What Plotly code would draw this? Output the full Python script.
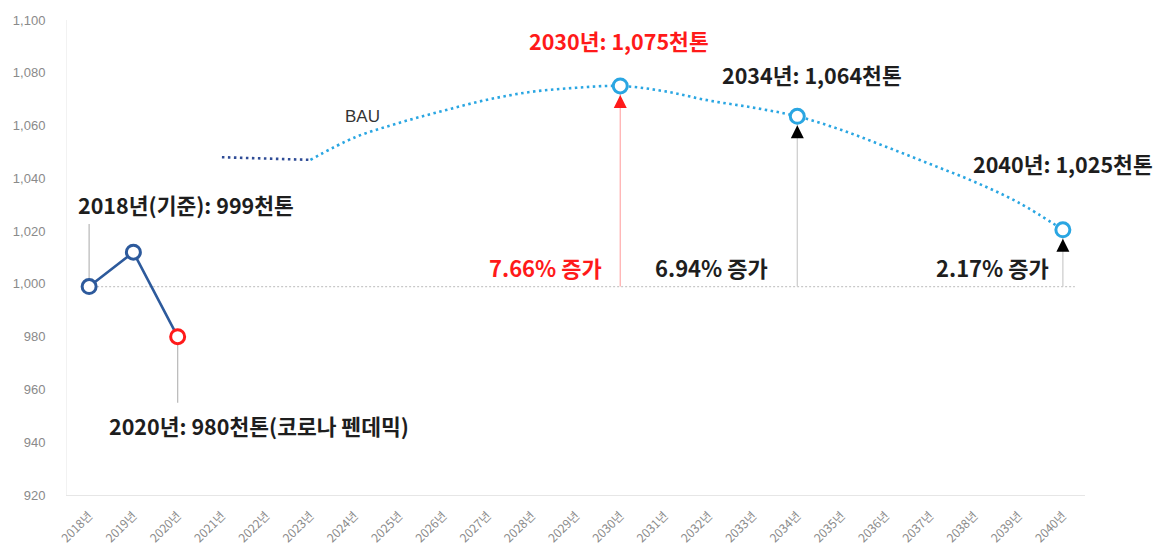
import plotly.graph_objects as go

# ---------------- data ----------------
years = list(range(2018, 2041))
tick_labels = [f"{y}년" for y in years]

hist_years = [2018, 2019, 2020]
hist_vals = [999, 1012, 980]

bau_flat_years = [2021, 2022, 2023]
bau_flat_vals = [1048, 1047.5, 1047]

bau_years = [2023, 2024, 2025, 2026, 2027, 2028, 2029, 2030, 2031, 2032,
             2033, 2034, 2035, 2036, 2037, 2038, 2039, 2040]
bau_vals = [1047, 1055.5, 1061, 1065.6, 1069.8, 1072.8, 1074.3, 1075, 1073,
            1069.5, 1066.8, 1063.5, 1058.3, 1052, 1045.4, 1038.7, 1030.8, 1020.5]

key_years = [2030, 2034, 2040]
key_vals = [1075, 1063.5, 1020.5]
key_labels = ["2030년: 1,075천톤", "2034년: 1,064천톤", "2040년: 1,025천톤"]
pct_labels = ["7.66% 증가", "6.94% 증가", "2.17% 증가"]

base_val = 999

# ---------------- styles ----------------
FONT = "Noto Sans CJK KR"
DARK = "#2D5A9C"
NAVY = "#2F4C96"
SKY = "#2AA6E2"
RED = "#FF1A1A"
GRAY = "#BDBDBD"
TXT = "#1E1E1E"

fig = go.Figure()

# historical line
fig.add_trace(go.Scatter(
    x=hist_years, y=hist_vals, mode="lines",
    line=dict(color=DARK, width=2.6), hoverinfo="skip"))
# BAU flat (dark dotted)
fig.add_trace(go.Scatter(
    x=bau_flat_years, y=bau_flat_vals, mode="lines",
    line=dict(color=NAVY, width=2.6, dash="2.5px,3.5px"), hoverinfo="skip"))
# BAU curve (sky dotted)
fig.add_trace(go.Scatter(
    x=bau_years, y=bau_vals, mode="lines",
    line=dict(color=SKY, width=2.6, dash="2.5px,3.5px", shape="spline", smoothing=1.0),
    hoverinfo="skip"))

# markers
hist_colors = [DARK, DARK, RED]
fig.add_trace(go.Scatter(
    x=hist_years, y=hist_vals, mode="markers",
    marker=dict(size=14, color="white", line=dict(color=hist_colors, width=3)),
    hoverinfo="skip"))
fig.add_trace(go.Scatter(
    x=key_years, y=key_vals, mode="markers",
    marker=dict(size=14, color="white", line=dict(color=SKY, width=3)),
    hoverinfo="skip"))

shapes = []
# baseline dotted at 2018 level
shapes.append(dict(type="line", xref="x", yref="y", x0=years[0], x1=years[-1] + 0.27,
                   y0=base_val, y1=base_val, layer="below",
                   line=dict(color="#C8C8C8", width=1.2, dash="2px,2px")))
# leader lines for 2018 and 2020
shapes.append(dict(type="line", xref="x", yref="y", x0=2018, x1=2018,
                   y0=hist_vals[0], y1=1022.7, layer="below",
                   line=dict(color=GRAY, width=1.3)))
shapes.append(dict(type="line", xref="x", yref="y", x0=2020, x1=2020,
                   y0=hist_vals[2], y1=955, layer="below",
                   line=dict(color=GRAY, width=1.3)))
# increase markers
line_cols = ["#FFB0B0", "#CFCFCF", "#CFCFCF"]
tri_cols = [RED, "#000000", "#000000"]
for yr, v, lc, tc in zip(key_years, key_vals, line_cols, tri_cols):
    shapes.append(dict(type="line", xref="x", yref="y", x0=yr, x1=yr,
                       y0=base_val, y1=v, layer="below",
                       line=dict(color=lc, width=1.3)))
    shapes.append(dict(type="path", xref="x", yref="y",
                       xsizemode="pixel", ysizemode="pixel",
                       xanchor=yr, yanchor=v,
                       path="M -6.5 -22 L 6.5 -22 L 0 -9 Z",
                       fillcolor=tc, line=dict(color=tc, width=0), layer="above"))

annots = []
def txt(x, y, s, color=TXT, size=21.5, weight="bold", family=FONT, xanchor="center"):
    annots.append(dict(x=x, y=y, xref="x", yref="y", text=s, showarrow=False,
                       xanchor=xanchor, yanchor="middle",
                       font=dict(family=family, size=size, color=color, weight=weight)))

txt(2020.19, 1029.9, "2018년(기준): 999천톤")
txt(2021.84, 946.5, "2020년: 980천톤(코로나 펜데믹)")
txt(2029.97, 1092.4, key_labels[0], color=RED)
txt(2034.33, 1079.5, key_labels[1])
txt(2040.0, 1045.8, key_labels[2])
txt(2024.17, 1063.6, "BAU", size=17, weight="normal", family="Liberation Sans", color="#333333")
txt(2028.32, 1006.4, pct_labels[0], color=RED, size=22)
txt(2032.07, 1006.4, pct_labels[1], size=22)
txt(2038.42, 1006.4, pct_labels[2], size=22)

fig.update_layout(
    width=1163, height=553,
    margin=dict(l=67, r=78, t=20, b=58, autoexpand=False),
    paper_bgcolor="white", plot_bgcolor="white",
    showlegend=False,
    shapes=shapes, annotations=annots,
    font=dict(family=FONT),
    xaxis=dict(range=[2017.5, 2040.5], tickvals=years, ticktext=tick_labels,
               tickangle=-45, showgrid=False, zeroline=False, automargin=False,
               showline=True, linecolor="#E6E6E6", linewidth=1,
               tickfont=dict(family=FONT, size=12, color="#8A8A8A"),
               ticklabelstandoff=8),
    yaxis=dict(range=[920, 1100], dtick=20, tickformat=",", showgrid=False,
               zeroline=False, showline=True, linecolor="#F2F2F2", linewidth=1,
               automargin=False,
               tickfont=dict(family="Liberation Sans", size=13, color="#8A8A8A"),
               ticklabelstandoff=18),
)

fig.write_html("out.html", config={"displayModeBar": False},
               post_script="document.body.style.margin='0';")
